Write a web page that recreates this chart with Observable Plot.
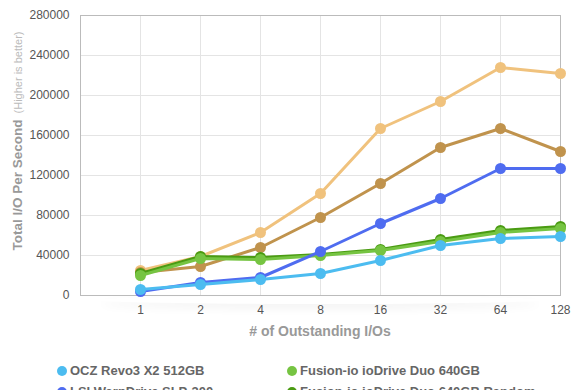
<!DOCTYPE html>
<html>
<head>
<meta charset="utf-8">
<script src="https://cdn.jsdelivr.net/npm/d3@7"></script>
<script src="https://cdn.jsdelivr.net/npm/@observablehq/plot@0.6"></script>
<style>
  html, body { margin: 0; padding: 0; background: #fff; }
  body { width: 580px; height: 390px; overflow: hidden; position: relative;
         font-family: "Helvetica Neue", Helvetica, Arial, "Liberation Sans", sans-serif; }
  #chart { position: absolute; left: 0; top: 0; }
  #shadow { position: absolute; left: 100px; top: 296px; width: 440px; height: 8px;
            border-radius: 50%; box-shadow: 0 4px 10px rgba(0,0,0,0.06); }
  #ylabel { position: absolute; left: 17px; top: 141px; transform: translate(-50%, -50%) rotate(-90deg);
            white-space: nowrap; color: #999; font-weight: bold; font-size: 13.5px; }
  #ylabel span { font-weight: normal; font-size: 11px; color: #bbb; margin-left: 6px; }
  #xlabel { position: absolute; left: 320px; top: 331px; transform: translate(-50%, -50%);
            white-space: nowrap; color: #999; font-weight: bold; font-size: 14px; }
  .leg { position: absolute; white-space: nowrap; font-weight: bold; font-size: 13px; color: #666;
         line-height: 16px; }
  .leg i { position: absolute; left: -13px; top: 3px; width: 10px; height: 10px; border-radius: 50%; }
</style>
</head>
<body>
<div id="shadow"></div>
<div id="chart"></div>
<div id="ylabel">Total I/O Per Second<span>(Higher is better)</span></div>
<div id="xlabel"># of Outstanding I/Os</div>
<div id="legend"></div>
<script>
const outstanding = [1, 2, 4, 8, 16, 32, 64, 128];
const yTicks = [0, 40000, 80000, 120000, 160000, 200000, 240000, 280000];

const seriesNames = [
  "OCZ Revo3 X2 512GB",
  "LSI WarpDrive SLP-300",
  "Fusion-io ioDrive Duo 640GB",
  "Fusion-io ioDrive Duo 640GB Random",
  "Fusion-io ioDrive Duo 640GB Striped",
  "Fusion-io ioDrive Duo 640GB Striped Random"
];
const seriesColors = ["#4cbcf0", "#4f6cf0", "#76c442", "#4a9b12", "#c0934d", "#f0c27d"];

const ocz      = [6000, 11000, 16000, 22000, 35000, 50000, 57000, 59000];
const lsi      = [4000, 13000, 18000, 44000, 72000, 97000, 127000, 127000];
const fusion   = [20000, 37000, 36000, 40000, 45000, 54000, 63000, 67000];
const fusionR  = [22000, 39000, 38000, 41000, 46000, 56000, 65000, 69000];
const striped  = [23000, 29000, 48000, 78000, 112000, 148000, 167000, 144000];
const stripedR = [25000, 39000, 63000, 102000, 167000, 194000, 228000, 222000];

const allValues = [ocz, lsi, fusion, fusionR, striped, stripedR];
// draw order (bottom to top)
const drawOrder = [5, 4, 3, 2, 1, 0];

const rows = [];
for (const si of drawOrder) {
  outstanding.forEach((n, i) => rows.push({series: seriesNames[si], n, v: allValues[si][i], order: si}));
}

const marks = [
  Plot.gridX(outstanding, {stroke: "#e4e4e4", strokeOpacity: 1}),
  Plot.gridY(yTicks, {stroke: "#e4e4e4", strokeOpacity: 1}),
  Plot.frame({stroke: "#bbb"}),
  Plot.axisY({ticks: yTicks, tickSize: 0, tickPadding: 11, label: null, tickFormat: d => String(d),
              fill: "#555", fontSize: 12}),
  Plot.axisX({ticks: outstanding, tickSize: 0, tickPadding: 10, label: null, tickFormat: d => String(d),
              fill: "#555", fontSize: 12})
];
for (const si of drawOrder) {
  const data = rows.filter(r => r.order === si);
  marks.push(Plot.line(data, {x: "n", y: "v", stroke: seriesColors[si], strokeWidth: 3}));
  marks.push(Plot.dot(data, {x: "n", y: "v", fill: seriesColors[si], r: 5.5}));
}

const chart = Plot.plot({
  width: 580,
  height: 345,
  marginLeft: 80,
  marginRight: 20,
  marginTop: 15,
  marginBottom: 50,
  style: {fontFamily: '"Helvetica Neue", Helvetica, Arial, "Liberation Sans", sans-serif', fontSize: "12px", background: "transparent"},
  x: {type: "log", base: 2, domain: [0.5, 128]},
  y: {domain: [0, 280000]},
  marks
});
document.getElementById("chart").appendChild(chart);

// legend: two columns
const legend = document.getElementById("legend");
const legendPos = [[70, 363], [70, 384], [300, 363], [300, 384], [70, 405], [300, 405]];
seriesNames.forEach((name, i) => {
  const d = document.createElement("div");
  d.className = "leg";
  d.style.left = legendPos[i][0] + "px";
  d.style.top = legendPos[i][1] + "px";
  d.innerHTML = `<i style="background:${seriesColors[i]}"></i>${name}`;
  legend.appendChild(d);
});
</script>
</body>
</html>
